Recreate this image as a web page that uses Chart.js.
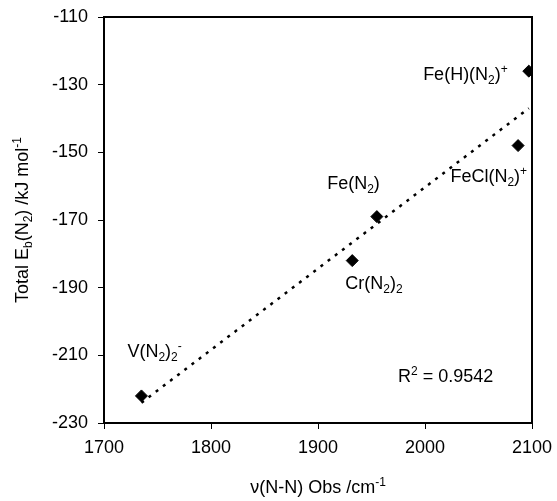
<!DOCTYPE html>
<html>
<head>
<meta charset="utf-8">
<script src="https://cdn.jsdelivr.net/npm/chart.js@4/dist/chart.umd.min.js"></script>
<style>
html,body{margin:0;padding:0;background:#fff;}
#contenedor{width:557px;height:501px;position:relative;}
</style>
</head>
<body>
<div id="contenedor"><canvas id="grafico1"></canvas></div>
<script>
// datos
let compuestos=['V(N_2)_2^-','Cr(N_2)_2','Fe(N_2)','FeCl(N_2)^+','Fe(H)(N_2)^+'];
let nuNN=[1735,1932,1955,2087,2097];
let energia=[-222,-182,-169,-148,-126];
let tendenciaX=[1735,2097];
let tendenciaY=[-224,-137];
let ticksX=[1700,1800,1900,2000,2100];
let ticksY=[-230,-210,-190,-170,-150,-130,-110];
let textoR2='R^2 = 0.9542';
let tituloX='\u03bd(N-N) Obs /cm^{-1}';
let tituloY='Total E_b(N_2) /kJ mol^{-1}';

const fuente="'Liberation Sans', Arial, sans-serif";
const tam=18;
const tamChico=12;

// desplazamiento de cada etiqueta respecto a su punto (px) y alineacion
let posEtiquetas=[
    {dx:-14,dy:-45,al:'left'},
    {dx:-7,dy:22,al:'left'},
    {dx:3,dy:-34,al:'right'},
    {dx:9,dy:30,al:'right'},
    {dx:-21,dy:2,al:'right'},
];

function partes(s){
    let out=[];
    let buf='';
    let i=0;
    while(i<s.length){
        let c=s[i];
        if(c=='_'||c=='^'){
            if(buf){out.push({t:buf,k:'n'});buf='';}
            let k=(c=='_')?'sub':'sup';
            i++;
            let t;
            if(s[i]=='{'){
                let j=s.indexOf('}',i);
                t=s.slice(i+1,j);
                i=j+1;
            }else{
                t=s[i];
                i++;
            }
            out.push({t:t,k:k});
        }else{
            buf+=c;
            i++;
        }
    }
    if(buf) out.push({t:buf,k:'n'});
    return out;
}

// dibuja texto con subindices / superindices, y = centro vertical
function textoRico(ctx,s,x,y,al){
    let ps=partes(s);
    let ancho=0;
    ps.forEach(p=>{
        ctx.font=(p.k=='n'?tam:tamChico)+'px '+fuente;
        p.w=ctx.measureText(p.t).width;
        ancho+=p.w;
    });
    let x0=x;
    if(al=='right') x0=x-ancho;
    if(al=='center') x0=x-ancho/2;
    let base=y+tam*0.36;
    ctx.fillStyle='#000';
    ctx.textBaseline='alphabetic';
    ctx.textAlign='left';
    ps.forEach(p=>{
        ctx.font=(p.k=='n'?tam:tamChico)+'px '+fuente;
        let yy=base;
        if(p.k=='sub') yy=base+4;
        if(p.k=='sup') yy=base-7;
        ctx.fillText(p.t,x0,yy);
        x0+=p.w;
    });
}

let pluginTextos={
    id:'textos',
    beforeDatasetsDraw(chart){
        let ctx=chart.ctx;
        let a=chart.chartArea;
        ctx.save();
        ctx.strokeStyle='#000';
        ctx.lineWidth=2;
        ctx.strokeRect(a.left,a.top,a.right-a.left,a.bottom-a.top);
        ctx.restore();
    },
    afterDraw(chart){
        let ctx=chart.ctx;
        let a=chart.chartArea;
        let sx=chart.scales.x;
        let sy=chart.scales.y;
        ctx.save();
        compuestos.forEach((c,i)=>{
            let px=sx.getPixelForValue(nuNN[i]);
            let py=sy.getPixelForValue(energia[i]);
            let p=posEtiquetas[i];
            textoRico(ctx,c,px+p.dx,py+p.dy,p.al);
        });
        textoRico(ctx,textoR2,a.left+294,a.bottom-47,'left');
        textoRico(ctx,tituloX,(a.left+a.right)/2,487,'center');
        ctx.translate(22,(a.top+a.bottom)/2);
        ctx.rotate(-Math.PI/2);
        textoRico(ctx,tituloY,0,0,'center');
        ctx.restore();
    }
};

let canvasG1=document.getElementById('grafico1').getContext('2d');
let datos={
    datasets:[
        {
            label:'Eb',
            data:nuNN.map((v,i)=>({x:v,y:energia[i]})),
            backgroundColor:'#000',
            borderColor:'#000',
            pointStyle:'rectRot',
            pointRadius:6,
            pointHoverRadius:6,
            showLine:false,
        },
        {
            label:'tendencia',
            data:tendenciaX.map((v,i)=>({x:v,y:tendenciaY[i]})),
            borderColor:'#000',
            borderWidth:2.5,
            borderDash:[3,6],
            pointRadius:0,
            showLine:true,
            fill:false,
        },
    ]
};
let opciones={
    maintainAspectRatio:false,
    responsive:true,
    animation:false,
    layout:{padding:{top:17,right:25,left:0,bottom:0}},
    plugins:{legend:{display:false},tooltip:{enabled:false}},
    scales:{
        x:{
            type:'linear',
            min:1700,
            max:2100,
            afterBuildTicks:s=>{s.ticks=ticksX.map(v=>({value:v}));},
            afterFit:s=>{s.height=501-423;s.paddingLeft=0;s.paddingRight=0;},
            grid:{display:true,drawOnChartArea:false,drawTicks:true,tickLength:6,color:'#000',lineWidth:1},
            border:{display:false},
            ticks:{color:'#000',font:{family:fuente,size:tam},padding:8,maxRotation:0,callback:v=>String(v)},
        },
        y:{
            type:'linear',
            min:-230,
            max:-110,
            afterBuildTicks:s=>{s.ticks=ticksY.map(v=>({value:v}));},
            afterFit:s=>{s.width=104;s.paddingTop=0;s.paddingBottom=0;},
            grid:{display:true,drawOnChartArea:false,drawTicks:true,tickLength:6,color:'#000',lineWidth:1},
            border:{display:false},
            ticks:{color:'#000',font:{family:fuente,size:tam},padding:10,callback:v=>String(v)},
        }
    }
};
let G1=new Chart(canvasG1,{
    type:'scatter',
    data:datos,
    options:opciones,
    plugins:[pluginTextos],
});
</script>
</body>
</html>
